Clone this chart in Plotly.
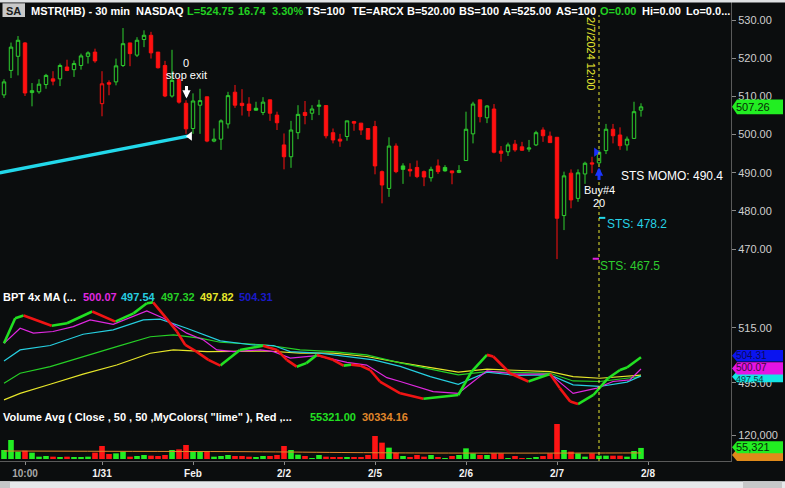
import plotly.graph_objects as go

# ---------------- data ----------------
bar_open = [510.4, 516.8, 520.5, 524.0, 511.0, 511.2, 513.1, 514.6, 514.6, 517.7,
            517.0, 518.1, 520.5, 521.6, 508.1, 513.6, 513.8, 518.1, 524.0, 520.8,
            524.9, 526.0, 521.6, 518.1, 510.1, 514.4, 508.2, 501.6, 507.7, 509.9,
            498.3, 498.8, 502.8, 511.1, 508.2, 508.0, 506.9, 505.8, 509.1, 505.1,
            497.3, 494.2, 500.5, 505.8, 505.6, 507.4, 507.6, 500.5, 498.8, 499.5,
            503.4, 503.0, 501.6, 502.1, 490.3, 485.9, 497.0, 491.8, 490.9, 491.4,
            490.3, 488.7, 491.8, 491.4, 490.5, 490.1, 493.2, 500.2, 509.1, 504.4,
            506.7, 495.7, 495.5, 497.5, 496.8, 496.2, 497.3, 501.2, 499.6, 499.3,
            478.8, 489.9, 483.3, 489.7, 492.6, 492.6, 495.8, 501.4, 499.9, 497.3,
            499.0, 506.4]
bar_high = [514.5, 524.1, 525.8, 524.2, 513.5, 514.5, 515.9, 516.6, 518.6, 519.6,
            519.4, 521.2, 521.8, 522.5, 516.6, 514.2, 519.9, 527.9, 524.0, 525.5,
            527.3, 526.9, 521.6, 519.3, 522.2, 515.1, 509.0, 510.8, 512.0, 509.9,
            501.6, 504.0, 511.2, 513.0, 511.9, 509.8, 508.6, 509.8, 509.1, 506.0,
            500.3, 503.6, 507.7, 508.8, 507.7, 509.1, 507.7, 501.6, 500.2, 503.6,
            503.6, 503.0, 501.6, 503.6, 490.6, 499.3, 497.7, 492.5, 492.5, 493.2,
            490.6, 491.6, 493.5, 492.0, 490.5, 492.0, 506.0, 508.6, 509.1, 507.7,
            508.0, 497.0, 497.9, 498.6, 498.1, 498.6, 501.0, 501.9, 500.8, 499.3,
            490.3, 490.9, 490.9, 492.9, 494.2, 496.0, 502.8, 502.8, 501.9, 499.5,
            508.6, 508.2]
bar_low = [509.6, 514.8, 515.5, 510.1, 507.4, 510.7, 512.0, 512.9, 512.7, 516.6,
           515.1, 517.0, 518.6, 518.8, 504.8, 510.3, 512.9, 517.7, 517.9, 520.3,
           522.9, 519.9, 517.3, 509.8, 509.7, 508.1, 500.2, 500.2, 500.2, 498.0,
           498.0, 496.0, 501.6, 507.0, 505.0, 504.7, 506.3, 505.1, 503.6, 501.2,
           490.9, 491.3, 498.8, 502.7, 503.8, 505.1, 499.0, 497.7, 496.8, 498.4,
           501.0, 499.9, 498.8, 489.6, 482.0, 483.7, 489.9, 487.1, 489.0, 488.6,
           486.5, 487.7, 489.7, 490.3, 487.0, 489.9, 493.2, 497.7, 503.2, 503.0,
           495.1, 492.9, 494.4, 495.5, 495.8, 495.5, 497.0, 498.1, 497.9, 467.4,
           475.0, 480.7, 482.4, 487.1, 489.9, 492.3, 494.9, 497.7, 496.0, 495.8,
           499.0, 504.7]
bar_close = [513.8, 522.9, 524.7, 510.9, 511.5, 513.2, 515.5, 514.0, 518.1, 516.8,
             518.6, 520.6, 521.4, 519.3, 513.3, 513.2, 518.0, 523.8, 521.2, 524.7,
             526.0, 521.4, 517.5, 510.1, 514.2, 508.5, 501.5, 508.8, 508.9, 498.3,
             498.8, 503.6, 510.2, 507.7, 507.6, 506.3, 506.4, 508.5, 505.6, 503.1,
             494.2, 501.2, 505.3, 505.0, 506.7, 507.7, 499.7, 498.6, 498.3, 503.6,
             503.0, 501.2, 498.8, 491.8, 486.8, 497.0, 490.3, 490.9, 490.5, 489.0,
             488.9, 490.9, 490.3, 490.5, 490.0, 490.6, 501.4, 508.0, 504.7, 507.5,
             495.4, 495.1, 497.3, 496.0, 495.9, 496.5, 500.5, 499.7, 497.9, 478.1,
             489.2, 482.9, 490.0, 492.5, 492.3, 495.4, 501.4, 499.7, 497.1, 498.8,
             506.0, 507.26]
volume = [45000, 95000, 36700, 41700, 31700, 11700, 15000, 11700, 6700, 11700,
          6700, 8300, 11700, 31700, 65000, 25000, 28300, 36700, 11700, 15000,
          20000, 16700, 15000, 20000, 45000, 48300, 70000, 40000, 40000, 36700,
          11700, 15000, 20000, 15000, 15000, 11700, 6700, 15000, 15000, 20000,
          65000, 45000, 21700, 15000, 3300, 20000, 11700, 6700, 6700, 6700,
          6700, 8300, 20000, 115000, 81700, 56700, 31700, 15000, 8300, 20000,
          11700, 20000, 8300, 3300, 15000, 20000, 53300, 28300, 20000, 20000,
          28300, 28300, 3300, 15000, 3300, 3300, 8300, 15000, 28300, 175000,
          45000, 36700, 28300, 11700, 28300, 16700, 16700, 16700, 16700, 11700,
          40000, 55321]
vol_avg_x = [0, 20, 35, 50, 60, 75, 91]
vol_avg = [40000, 38000, 36500, 32000, 30000, 29500, 30334]

# BPT 4x MA panel (bar position, value)
bpt_x = [0, 1.6, 2.8, 6.8, 9.0, 12.6, 15.9, 18.5, 20.4, 21.3, 23.2, 24.7, 25.9, 27.5,
         29.2, 30.9, 33.7, 37.0, 39.0, 40.4, 41.8, 43.2, 44.7, 47.0, 48.5, 49.6, 50.9,
         52.3, 53.7, 56.6, 59.9, 64.9, 66.8, 69.0, 69.9, 72.3, 74.9, 78.0, 79.4, 80.9,
         82.0, 84.2, 86.3, 88.0, 89.0, 91]
bpt_v = [509.4, 518.5, 519.5, 515.8, 516.7, 521.0, 517.3, 520.3, 524.0, 524.3, 518.5,
         513.7, 508.8, 506.4, 503.4, 501.3, 507.0, 508.5, 507.0, 503.4, 500.9, 502.2,
         505.2, 503.4, 501.3, 501.6, 501.3, 499.7, 495.5, 491.2, 489.2, 490.6, 499.1,
         505.2, 504.6, 498.5, 495.5, 498.2, 493.1, 488.2, 487.3, 490.6, 496.7, 499.7,
         500.6, 504.31]
mag_x = [0, 2.3, 4.2, 7.0, 9.9, 12.3, 15.6, 20.4, 22.8, 26.1, 28.5, 30.4, 32.8, 36.6,
         38.5, 40.9, 44.7, 49.0, 51.8, 54.7, 56.6, 61.3, 64.9, 69.0, 73.2, 78.0, 81.3,
         84.7, 87.0, 89.4, 91]
mag_v = [509.4, 514.9, 513.1, 513.7, 515.5, 517.9, 516.3, 521.2, 518.5, 513.1, 510.6,
         507.0, 506.4, 507.0, 506.4, 504.0, 504.9, 502.5, 501.5, 496.9, 495.5, 491.8,
         491.2, 499.4, 498.2, 498.2, 491.2, 493.1, 495.5, 496.1, 500.07]
cyan_x = [0, 2.3, 6.6, 11.3, 15.6, 19.9, 22.3, 26.1, 30.9, 35.6, 38.5, 40.9, 45.1, 49.4,
          52.8, 56.6, 60.9, 64.9, 69.0, 73.2, 78.0, 81.3, 85.1, 89.0, 91]
cyan_v = [503.0, 507.0, 508.6, 512.7, 514.3, 517.9, 518.2, 514.9, 510.3, 508.8, 508.6,
          506.4, 505.8, 504.6, 503.4, 501.0, 497.3, 494.5, 498.9, 497.7, 497.9, 494.3,
          493.7, 495.3, 497.54]
grn_x = [0, 2.3, 6.6, 11.3, 16.1, 20.9, 24.2, 28.0, 30.9, 37.5, 42.3, 47.0, 51.8, 56.6,
         64.9, 69.0, 78.0, 81.3, 85.1, 91]
grn_v = [494.9, 498.5, 500.9, 504.6, 508.2, 511.8, 512.5, 511.3, 509.8, 508.8, 507.0,
         506.4, 505.2, 502.3, 497.9, 499.1, 498.5, 495.7, 495.5, 497.32]
yel_x = [0, 2.3, 6.6, 11.3, 16.1, 20.9, 24.2, 29.0, 37.5, 42.3, 47.0, 51.8, 56.6, 64.9,
         69.0, 78.0, 81.3, 85.1, 91]
yel_v = [488.8, 491.2, 494.5, 498.2, 501.5, 505.8, 507.0, 506.4, 506.6, 505.8, 505.8,
         504.6, 502.4, 498.9, 500.0, 499.1, 497.3, 496.7, 497.82]

# trend line / signals
trend_x = [-0.6, 26.3]
trend_y = [490.0, 499.6]
exit_bar, exit_price = 26.07, 509.45
buy_bar, buy_price = 85, 491.4
entry_mark_x, entry_mark_y = 84.6, 495.4
sts_momo = 490.4
sts_cyan = 478.2
sts_mag = 467.5
event_bar = 85

x_tick_pos = [3, 14, 27, 40, 53, 66, 79, 92]
x_tick_text = ['<span style="color:#a8a8a8">10:00</span>', "1/31", "Feb", "2/2",
               "2/5", "2/6", "2/7", "2/8"]
price_ticks = [470, 480, 490, 500, 510, 520, 530]
ma_ticks = [515, 495]
vol_ticks = [120000]

# ---------------- styling ----------------
BG = "#0b0d0e"
GREEN = "#2fd02f"
RED = "#ff1010"
W, H = 731, 461


def px(x):
    return x / W


def py(y):
    return (H - y) / H


bars = list(range(len(bar_close)))
is_up = [True] + [bar_close[i] >= bar_close[i - 1] for i in range(1, len(bar_close))]

fig = go.Figure()


def candles(idx, color):
    return go.Candlestick(
        x=idx, open=[bar_open[i] for i in idx], high=[bar_high[i] for i in idx],
        low=[bar_low[i] for i in idx], close=[bar_close[i] for i in idx],
        increasing=dict(line=dict(color=color, width=1), fillcolor=BG),
        decreasing=dict(line=dict(color=color, width=1), fillcolor=color),
        whiskerwidth=0, showlegend=False, hoverinfo="skip", xaxis="x", yaxis="y")


fig.add_trace(candles([i for i in bars if is_up[i]], GREEN))
fig.add_trace(candles([i for i in bars if not is_up[i]], RED))

# trend line and markers
fig.add_trace(go.Scatter(x=trend_x, y=trend_y, mode="lines",
                         line=dict(color="#22d8ea", width=3.5), hoverinfo="skip", yaxis="y"))
fig.add_trace(go.Scatter(x=[trend_x[-1] + 0.25], y=[trend_y[-1]], mode="markers",
                         marker=dict(symbol="triangle-left", size=8, color="white"),
                         hoverinfo="skip", yaxis="y"))
fig.add_trace(go.Scatter(x=[entry_mark_x], y=[entry_mark_y], mode="markers",
                         marker=dict(symbol="triangle-right", size=8, color="#1a30ff"),
                         hoverinfo="skip", yaxis="y"))
fig.add_trace(go.Scatter(x=[event_bar, event_bar + 0.9], y=[sts_cyan] * 2, mode="lines",
                         line=dict(color="#22d8ea", width=2), hoverinfo="skip", yaxis="y"))
fig.add_trace(go.Scatter(x=[event_bar - 0.9, event_bar], y=[sts_mag] * 2, mode="lines",
                         line=dict(color="#e020e0", width=2), hoverinfo="skip", yaxis="y"))

# MA panel
for xs, vs, col in [(yel_x, yel_v, "#e6e62a"), (grn_x, grn_v, "#26d026"),
                    (cyan_x, cyan_v, "#26cfe0"), (mag_x, mag_v, "#e028e0")]:
    fig.add_trace(go.Scatter(x=xs, y=vs, mode="lines", line=dict(color=col, width=1.2),
                             hoverinfo="skip", yaxis="y2"))
gx, gy, rx, ry = [], [], [], []
for k in range(len(bpt_v) - 1):
    seg_x = [bpt_x[k], bpt_x[k + 1], None]
    seg_y = [bpt_v[k], bpt_v[k + 1], None]
    if bpt_v[k + 1] >= bpt_v[k]:
        gx += seg_x; gy += seg_y
    else:
        rx += seg_x; ry += seg_y
fig.add_trace(go.Scatter(x=gx, y=gy, mode="lines", line=dict(color="#22e022", width=2.6),
                         hoverinfo="skip", yaxis="y2", connectgaps=False))
fig.add_trace(go.Scatter(x=rx, y=ry, mode="lines", line=dict(color="#f01414", width=2.6),
                         hoverinfo="skip", yaxis="y2", connectgaps=False))

# Volume panel
fig.add_trace(go.Bar(x=bars, y=volume, marker=dict(color=["#22ee22" if u else "#ff1414" for u in is_up],
                                                    line=dict(width=0)),
                     hoverinfo="skip", yaxis="y3", width=0.8))
fig.add_trace(go.Scatter(x=vol_avg_x, y=vol_avg, mode="lines", line=dict(color="#e0862a", width=1),
                         line_shape="spline", hoverinfo="skip", yaxis="y3"))

# ---------------- annotations ----------------
ann = []


def label(text, x, y, color, size=11, bold=False, xanchor="left", angle=0):
    ann.append(dict(text=text, x=px(x), y=py(y), xref="paper", yref="paper", showarrow=False,
                    xanchor=xanchor, yanchor="middle", borderpad=0, textangle=angle,
                    font=dict(size=size, color=color, weight="bold" if bold else "normal")))


WHITE = "#ffffff"
HG = "#22d022"
for t, x, c in [("MSTR(HB)\u00a0-\u00a030\u00a0min", 30, WHITE), ("NASDAQ", 135, WHITE),
                ("L=524.75", 186, HG), ("16.74", 237, HG), ("3.30%", 271, HG),
                ("TS=100", 305, WHITE), ("TE=ARCX", 350.5, WHITE), ("B=520.00", 405.5, WHITE),
                ("BS=100", 457.5, WHITE), ("A=525.00", 502, WHITE), ("AS=100", 554.5, WHITE),
                ("O=0.00", 599, HG), ("Hi=0.00", 641, WHITE), ("Lo=0.0...", 685, WHITE)]:
    label(t, x, 10.7, c, bold=True)
label("SA", 13.5, 10.5, "#1a1a1a", bold=True, xanchor="center")

for t, x, c in [("BPT 4x MA (...", 2, WHITE), ("500.07", 82, "#e028e0"), ("497.54", 120, "#26cfe0"),
                ("497.32", 160, "#26d026"), ("497.82", 198.5, "#e6e62a"), ("504.31", 237.5, "#1a1ac8")]:
    label(t, x, 296.7, c, bold=True)
for t, x, c in [('Volume Avg ( Close , 50 , 50 ,MyColors( "lime" ), Red ,...', 2, WHITE),
                ("55321.00", 308.5, "#22e022"), ("30334.16", 360.5, "#e0862a")]:
    label(t, x, 416.7, c, bold=True)

label("0", 186, 62.5, WHITE, xanchor="center")
label("stop exit", 186, 75, WHITE, xanchor="center")
label("Buy#4", 599, 190, WHITE, xanchor="center")
label("20", 599, 203, WHITE, xanchor="center")
label(f"STS MOMO: {sts_momo}", 619.5, 175.5, WHITE, size=12)
label(f"STS: {sts_cyan}", 605.5, 224.3, "#26d2e6", size=12)
label(f"STS: {sts_mag}", 598.5, 265.7, "#2ecc2e", size=12)
label("2/7/2024 12:00", 591, 53, "#e8e830", angle=90, xanchor="center")

ann.append(dict(x=exit_bar, y=exit_price, xref="x", yref="y", text="", showarrow=True,
                ax=0, ay=-14, arrowhead=2, arrowsize=0.55, arrowwidth=3, arrowcolor="white",
                standoff=0))
ann.append(dict(x=buy_bar, y=buy_price, xref="x", yref="y", text="", showarrow=True,
                ax=0, ay=14, arrowhead=2, arrowsize=0.55, arrowwidth=3, arrowcolor="#1a35ff",
                standoff=0))

# ---------------- shapes (tags, frame bits) ----------------
shapes = []


def tag(value, yref, half, fill):
    tip, b0, b1 = px(732), px(737), px(783)
    path = (f"M{tip},{value} L{b0},{value + half} L{b1},{value + half} "
            f"L{b1},{value - half} L{b0},{value - half} Z")
    shapes.append(dict(type="path", path=path, xref="paper", yref=yref,
                       fillcolor=fill, line=dict(width=0), layer="above"))


def tag_text(text, value, yref, color, size=11):
    ann.append(dict(text=text, x=px(735), y=value, xref="paper", yref=yref, showarrow=False,
                    xanchor="left", yanchor="middle", borderpad=0,
                    font=dict(size=size, color=color)))


tag(bar_close[-1], "y", 1.95, "#22ee22")
tag_text(f"{bar_close[-1]:.2f}", bar_close[-1], "y", "#062a06")
tag(cyan_v[-1] - 0.3, "y2", 2.0, "#12e4e4")
tag_text(f"{cyan_v[-1]:.2f}", cyan_v[-1] - 1.0, "y2", "#0a3a3a", size=9)
tag(mag_v[-1] + 0.2, "y2", 2.2, "#e414e4")
tag_text(f"{mag_v[-1]:.2f}", mag_v[-1] + 0.4, "y2", "#3a0a3a", size=10)
tag(bpt_v[-1] + 0.6, "y2", 2.1, "#0a14f0")
tag_text(f"{bpt_v[-1]:.2f}", bpt_v[-1] + 0.6, "y2", "#0a0a5a", size=10)
tag(vol_avg[-1] - 10000, "y3", 30000, "#e08a1a")
tag(volume[-1] + 4000, "y3", 30000, "#22ee22")
tag_text(f"{volume[-1]:,}", volume[-1] + 4000, "y3", "#062a06")

# dashed event line
shapes.append(dict(type="line", xref="x", yref="paper", x0=event_bar, x1=event_bar,
                   y0=py(461), y1=py(15), line=dict(color="#e8e830", width=1, dash="3px,3px")))
# SA box, top strip, scrollbar
shapes.append(dict(type="rect", xref="paper", yref="paper", x0=px(2.5), x1=px(25), y0=py(17),
                   y1=py(3.3), fillcolor="#c8c8c8", line=dict(width=0), layer="below"))
shapes.append(dict(type="rect", xref="paper", yref="paper", x0=0, x1=px(785), y0=py(2.5),
                   y1=1, fillcolor="#dfe1e3", line=dict(width=0)))
shapes.append(dict(type="rect", xref="paper", yref="paper", x0=0, x1=px(785), y0=py(488),
                   y1=py(481.3), fillcolor="#e6e8ea", line=dict(width=0)))
shapes.append(dict(type="rect", xref="paper", yref="paper", x0=px(743), x1=px(782), y0=py(488),
                   y1=py(481.3), fillcolor="#c6c7c8", line=dict(width=0)))
shapes.append(dict(type="rect", xref="paper", yref="paper", x0=0, x1=px(10), y0=py(488),
                   y1=py(481.3), fillcolor="#c6c7c8", line=dict(width=0)))

axis_common = dict(side="right", anchor="x", showgrid=False, zeroline=False, showline=True,
                   linecolor="#5a5a5a", ticks="outside", ticklen=4, tickcolor="#8a8a8a",
                   tickfont=dict(size=11, color="#cfcfcf"), fixedrange=True)

fig.update_layout(
    width=785, height=488, margin=dict(l=0, r=54, t=0, b=27),
    paper_bgcolor=BG, plot_bgcolor=BG, showlegend=False,
    font=dict(family="Liberation Sans, Arial, sans-serif", color="#d0d0d0", size=11),
    bargap=0.2,
    xaxis=dict(domain=[0, 1], range=[-4 / 7, 727 / 7], anchor="y3", tickmode="array",
               tickvals=x_tick_pos, ticktext=x_tick_text, showgrid=False, zeroline=False,
               showline=True, linecolor="#5a5a5a", ticks="outside", ticklen=3,
               tickcolor="#8a8a8a", tickfont=dict(size=10, color="#f4f4f4", weight="bold"),
               rangeslider=dict(visible=False)),
    yaxis=dict(domain=[py(287), 1], range=[460.1, 535.24], tickvals=price_ticks,
               ticktext=[f"{v:.2f}" for v in price_ticks], **axis_common),
    yaxis2=dict(domain=[py(409), py(287)], range=[485.5, 529.9], tickvals=ma_ticks,
                ticktext=[f"{v:.2f}" for v in ma_ticks], **axis_common),
    yaxis3=dict(domain=[0, py(409)], range=[-10000, 250000], tickvals=vol_ticks,
                ticktext=[f"{v:,}" for v in vol_ticks], **axis_common),
    annotations=ann, shapes=shapes,
)

fig.write_html("out.html", config={"displayModeBar": False},
               post_script="document.body.style.margin='0';document.body.style.padding='0';"
                           "document.documentElement.style.overflow='hidden';")
